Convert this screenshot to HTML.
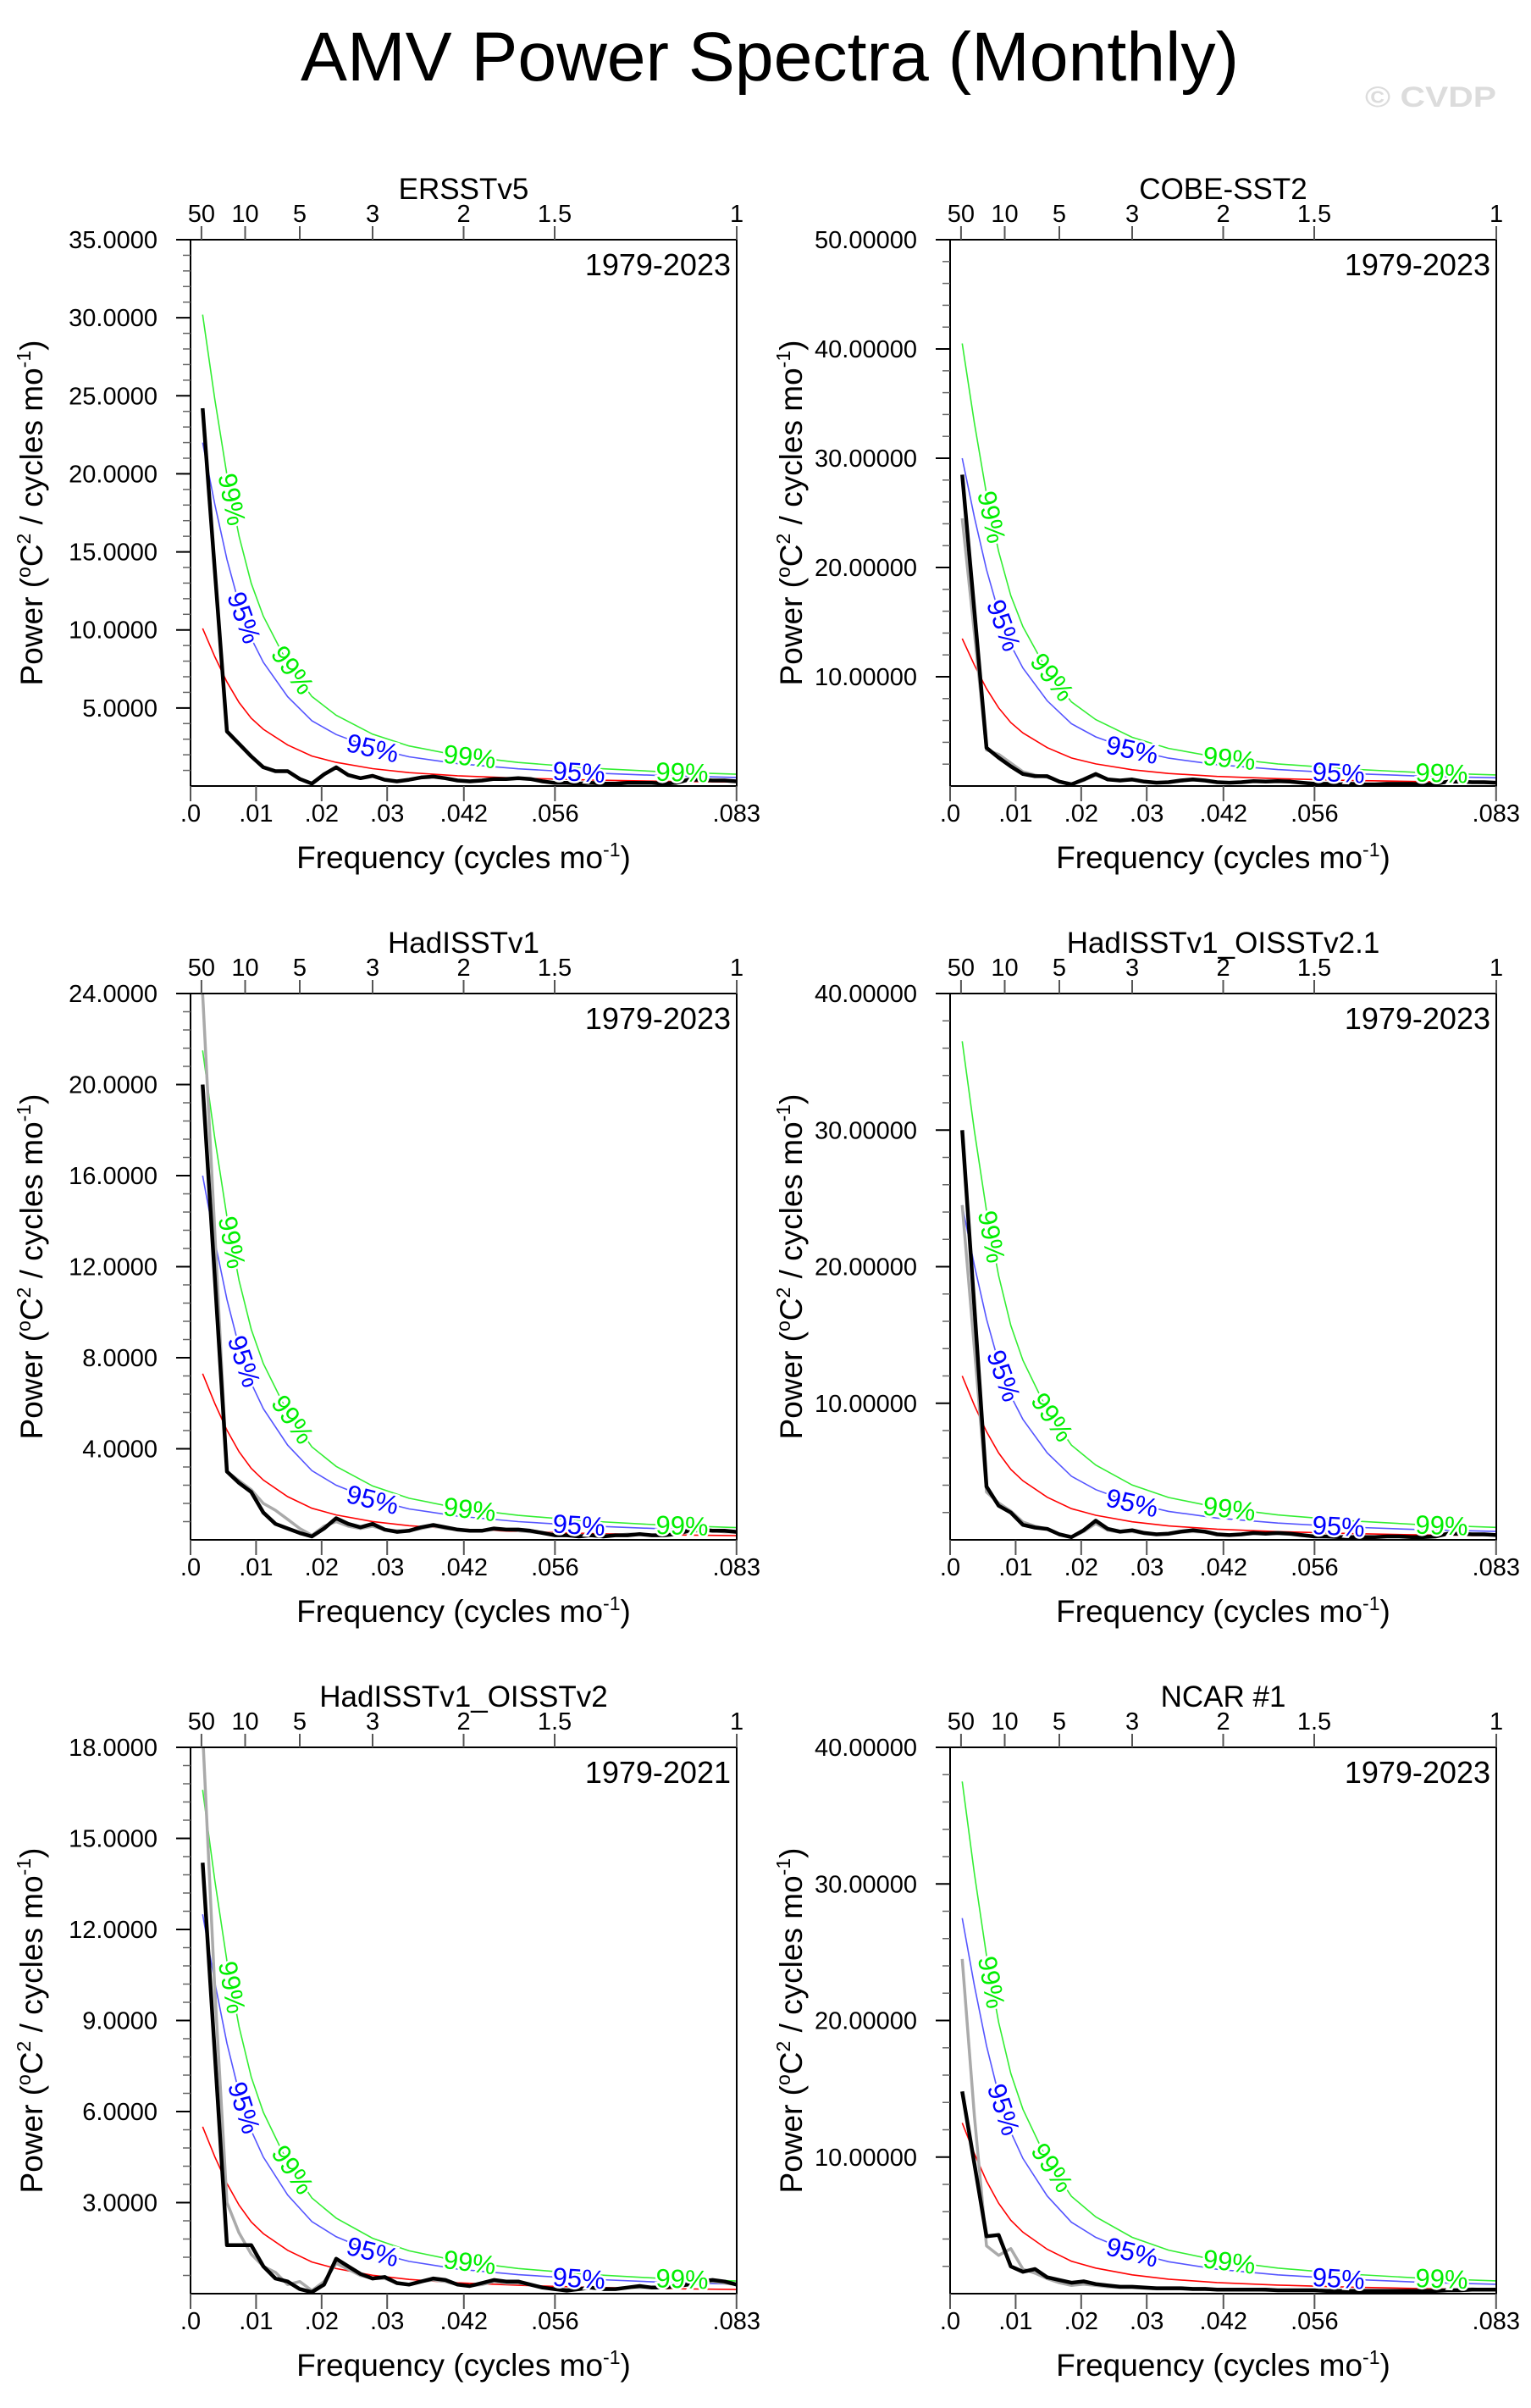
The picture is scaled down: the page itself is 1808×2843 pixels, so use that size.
<!DOCTYPE html>
<html><head><meta charset="utf-8"><style>
html,body{margin:0;padding:0;background:#fff;}
svg{display:block;font-family:"Liberation Sans",sans-serif;}
</style></head><body>
<svg id="fig" width="1808" height="2843" viewBox="0 0 1808 2843" xmlns="http://www.w3.org/2000/svg">
<text x="909" y="95" font-size="82" text-anchor="middle" textLength="1108" lengthAdjust="spacingAndGlyphs">AMV Power Spectra (Monthly)</text>
<text x="1612" y="126" font-size="34" font-weight="bold" fill="#dcdcdc" textLength="155" lengthAdjust="spacingAndGlyphs">© CVDP</text>
</svg>
<script>
// ---- data ----
const panelTitles = ["ERSSTv5","COBE-SST2","HadISSTv1","HadISSTv1_OISSTv2.1","HadISSTv1_OISSTv2","NCAR #1"];
const panelYears = ["1979-2023","1979-2023","1979-2023","1979-2023","1979-2021","1979-2023"];
const yMax = [35,50,24,40,18,40];
const yTickVals = [[5,10,15,20,25,30,35],[10,20,30,40,50],[4,8,12,16,20,24],[10,20,30,40],[3,6,9,12,15,18],[10,20,30,40]];
const yTickLabels = [
 ["5.0000","10.0000","15.0000","20.0000","25.0000","30.0000","35.0000"],
 ["10.00000","20.00000","30.00000","40.00000","50.00000"],
 ["4.0000","8.0000","12.0000","16.0000","20.0000","24.0000"],
 ["10.00000","20.00000","30.00000","40.00000"],
 ["3.0000","6.0000","9.0000","12.0000","15.0000","18.0000"],
 ["10.00000","20.00000","30.00000","40.00000"]];
const xTickVals = [0,0.01,0.02,0.03,0.0417,0.0556,0.0833];
const xTickLabels = [".0",".01",".02",".03",".042",".056",".083"];
const periodVals = [50,10,5,3,2,1.5,1];
const periodLabels = ["50","10","5","3","2","1.5","1"];
const nMonths = 540;
const black1 = [24.2,13.8,3.5,2.7,1.9,1.2,0.95,0.95,0.45,0.15,0.75,1.2,0.7,0.5,0.65,0.4,0.3,0.4,0.55,0.6,0.5,0.35,0.3,0.35,0.45,0.45,0.5,0.45,0.3,0.2,0.2,0.15,0.2,0.15,0.15,0.2,0.2,0.2,0.15,0.2,0.4,0.4,0.35,0.35,0.3];
const black2 = [28.5,16,3.5,2.6,1.8,1.1,0.9,0.9,0.4,0.15,0.6,1.1,0.6,0.5,0.6,0.4,0.3,0.35,0.5,0.6,0.5,0.35,0.3,0.35,0.45,0.4,0.45,0.4,0.3,0.2,0.2,0.15,0.2,0.15,0.15,0.2,0.2,0.2,0.15,0.2,0.4,0.4,0.35,0.35,0.3];
const gray2 = [24.5,14,3.3,2.9,2.1,1.3,1.0,0.8,0.4,0.2,0.5,1.0,0.6,0.5,0.55,0.4,0.35,0.35,0.45,0.55,0.5,0.35,0.3,0.35,0.4,0.4,0.4,0.4,0.3,0.25,0.2,0.2,0.2,0.15,0.15,0.2,0.2,0.2,0.2,0.2,0.35,0.35,0.35,0.3,0.3];
const black3 = [20,11.5,3.0,2.5,2.1,1.2,0.7,0.5,0.3,0.15,0.5,0.95,0.7,0.55,0.7,0.45,0.35,0.4,0.55,0.65,0.55,0.45,0.4,0.4,0.5,0.45,0.45,0.4,0.3,0.2,0.2,0.15,0.2,0.15,0.2,0.2,0.25,0.2,0.2,0.25,0.4,0.45,0.4,0.4,0.35];
const gray3 = [24,13.5,3.0,2.6,2.2,1.6,1.3,0.9,0.5,0.2,0.6,0.8,0.6,0.5,0.6,0.45,0.4,0.4,0.5,0.6,0.5,0.45,0.4,0.4,0.45,0.45,0.4,0.35,0.3,0.25,0.2,0.2,0.2,0.2,0.2,0.25,0.25,0.2,0.2,0.25,0.35,0.4,0.4,0.35,0.35];
const black4 = [30,17,3.9,2.5,2.0,1.1,0.9,0.8,0.4,0.2,0.7,1.4,0.8,0.6,0.7,0.5,0.4,0.45,0.6,0.7,0.6,0.4,0.35,0.4,0.5,0.45,0.5,0.45,0.35,0.25,0.25,0.2,0.2,0.2,0.2,0.25,0.25,0.2,0.2,0.25,0.45,0.45,0.4,0.4,0.35];
const gray4 = [24.5,14,3.5,2.7,2.1,1.3,1.0,0.8,0.4,0.2,0.6,1.2,0.7,0.55,0.6,0.45,0.4,0.4,0.55,0.6,0.55,0.4,0.35,0.4,0.45,0.45,0.45,0.4,0.3,0.25,0.2,0.2,0.2,0.2,0.2,0.25,0.25,0.2,0.2,0.25,0.4,0.4,0.4,0.35,0.35];
const black5 = [14.2,7.9,1.6,1.6,1.6,0.9,0.5,0.4,0.15,0.05,0.3,1.15,0.9,0.65,0.5,0.55,0.35,0.3,0.4,0.5,0.45,0.3,0.25,0.35,0.45,0.4,0.4,0.3,0.2,0.15,0.1,0.15,0.2,0.15,0.15,0.2,0.25,0.2,0.2,0.25,0.3,0.4,0.45,0.4,0.3];
const gray5 = [18.5,10,3.0,2.0,1.3,0.9,0.7,0.3,0.4,0.1,0.4,1.0,0.8,0.6,0.5,0.5,0.35,0.3,0.4,0.45,0.4,0.3,0.25,0.3,0.4,0.35,0.35,0.3,0.2,0.15,0.15,0.15,0.2,0.15,0.15,0.2,0.2,0.2,0.2,0.2,0.3,0.35,0.4,0.35,0.3];
const black6 = [14.8,9.5,4.2,4.3,2.0,1.6,1.8,1.2,1.0,0.8,0.9,0.7,0.6,0.5,0.5,0.45,0.4,0.4,0.4,0.35,0.35,0.3,0.3,0.3,0.3,0.3,0.25,0.25,0.25,0.25,0.2,0.2,0.2,0.2,0.2,0.2,0.2,0.2,0.2,0.2,0.25,0.25,0.3,0.3,0.3];
const gray6 = [24.5,13,3.5,2.8,3.3,1.8,1.5,1.1,0.8,0.6,0.7,0.6,0.5,0.45,0.45,0.4,0.35,0.35,0.35,0.3,0.3,0.3,0.3,0.3,0.3,0.25,0.25,0.25,0.25,0.25,0.2,0.2,0.2,0.2,0.2,0.2,0.2,0.25,0.25,0.25,0.3,0.3,0.35,0.3,0.3];
const blackSeries = [black1,black2,black3,black4,black5,black6];
const graySeries = [null,gray2,gray3,gray4,gray5,gray6];
const redPeak = [10.1,13.5,7.3,12,5.5,12.5];
const bluePeak = [22,30,16,24.5,12.5,27.5];
const greenPeak = [30.2,40.5,21.5,36.5,16.6,37.5];
const shapeK = [1,2,3,4,5,6,8,10,12,15,18,22,27,33,39,45];
const shapeVals = [1,0.82,0.66,0.53,0.43,0.36,0.26,0.19,0.15,0.11,0.085,0.065,0.05,0.038,0.03,0.025];
const greenLabelK = [3.4,8.4,23,40.5];
const blueLabelK = [4.4,15,32];

// ---- layout ----
const NS = "http://www.w3.org/2000/svg";
const svg = document.getElementById("fig");
const colX = [225,1122], rowY = [283,1173,2063], PW = 645, PH = 645, FMAX = 0.08333;
function mk(tag, attrs, parent){ const e=document.createElementNS(NS,tag); for(const k in attrs) e.setAttribute(k,attrs[k]); (parent||svg).appendChild(e); return e; }
function shapeAt(k){ if(k<=shapeK[0]) return shapeVals[0]; for(let i=1;i<shapeK.length;i++){ if(k<=shapeK[i]){ const t=(k-shapeK[i-1])/(shapeK[i]-shapeK[i-1]); return shapeVals[i-1]+t*(shapeVals[i]-shapeVals[i-1]); } } return shapeVals[shapeVals.length-1]; }

for(let p=0;p<6;p++){
  const L = colX[p%2], T = rowY[Math.floor(p/2)], B = T+PH, R = L+PW;
  const xs = f => L + f/FMAX*PW;
  const ys = v => B - v/yMax[p]*PH;
  const g = mk("g",{});
  
  
  const cid = "clip"+p;
  const cp = mk("clipPath",{id:cid},g); mk("rect",{x:L,y:T,width:PW,height:PH},cp);
  const tt = mk("text",{x:L+PW/2,y:T-48,"font-size":35,"text-anchor":"middle"},g); tt.textContent=panelTitles[p];
  
  
  const yr = mk("text",{x:R-7,y:T+42,"font-size":36,"text-anchor":"end"},g); yr.textContent=panelYears[p];
  
  
  const curveG = mk("g",{"clip-path":"url(#"+cid+")"},g);
  const peaks = [[redPeak[p],"#ff0000","red-noise-curve"],[bluePeak[p],"#5555ff","blue-95-curve"],[greenPeak[p],"#33ee33","green-99-curve"]];
  peaks.forEach(([pk,col,nm])=>{
    let d=""; shapeK.forEach((k,i)=>{ d+=(i?"L":"M")+xs(k/nMonths).toFixed(1)+","+ys(pk*shapeVals[i]).toFixed(1); });
    const c = mk("path",{d:d,fill:"none",stroke:col,"stroke-width":1.6},curveG);
    
    
  });
  [[graySeries[p],"#aaaaaa",3.5,"gray-spectrum-line"],[blackSeries[p],"#000000",4.5,"black-spectrum-line"]].forEach(([arr,col,w,nm])=>{
    if(!arr) return;
    let d=""; arr.forEach((v,i)=>{ d+=(i?"L":"M")+xs((i+1)/nMonths).toFixed(1)+","+ys(v).toFixed(1); });
    const c = mk("path",{d:d,fill:"none",stroke:col,"stroke-width":w,"stroke-linejoin":"round"},curveG);
    
    
  });
  [[greenLabelK,greenPeak[p],"#00ee00","99%"],[blueLabelK,bluePeak[p],"#0000ff","95%"]].forEach(([ks,pk,col,txt])=>{
    ks.forEach(k=>{
      const x=xs(k/nMonths), y=ys(pk*shapeAt(k));
      const x2=xs((k+0.3)/nMonths), y2=ys(pk*shapeAt(k+0.3));
      const ang=Math.atan2(y2-y,x2-x)*180/Math.PI;
      const t = mk("text",{x:x,y:y,"font-size":31,fill:col,"text-anchor":"middle","dominant-baseline":"central",transform:"rotate("+ang.toFixed(1)+" "+x.toFixed(1)+" "+y.toFixed(1)+")",stroke:"#fff","stroke-width":5,"paint-order":"stroke"},g);
      t.textContent=txt;
      
      
    });
  });
  const fr = mk("rect",{x:L,y:T,width:PW,height:PH,fill:"none",stroke:"#000","stroke-width":2},g);
  
  
  const step = yTickVals[p][1]-yTickVals[p][0];
  for(let v=step/5; v<=yMax[p]+1e-6; v+=step/5){ mk("line",{x1:L-9,x2:L,y1:ys(v),y2:ys(v),stroke:"#666","stroke-width":1.5},g); }
  yTickVals[p].forEach((v,i)=>{
    mk("line",{x1:L-17,x2:L,y1:ys(v),y2:ys(v),stroke:"#000","stroke-width":2},g);
    const t=mk("text",{x:L-39,y:ys(v)+10,"font-size":29,"text-anchor":"end"},g); t.textContent=yTickLabels[p][i];
    
    
  });
  xTickVals.forEach((f,i)=>{
    mk("line",{x1:xs(f),x2:xs(f),y1:B,y2:B+18,stroke:"#555","stroke-width":2},g);
    const t=mk("text",{x:xs(f),y:B+42,"font-size":29,"text-anchor":"middle"},g); t.textContent=xTickLabels[i];
    
    
  });
  periodVals.forEach((per,i)=>{
    const f = 1/(per*12);
    mk("line",{x1:xs(f),x2:xs(f),y1:T,y2:T-16,stroke:"#555","stroke-width":2},g);
    const t=mk("text",{x:xs(f),y:T-21,"font-size":29,"text-anchor":"middle"},g); t.textContent=periodLabels[i];
    
    
  });
  const xt = mk("text",{x:L+PW/2,y:B+97,"font-size":37,"text-anchor":"middle"},g);
  xt.innerHTML = 'Frequency (cycles mo<tspan dy="-14" font-size="23">-1</tspan><tspan dy="14">)</tspan>';
  
  
  const cx = L-175, cy = T+PH/2;
  const yt = mk("text",{x:cx,y:cy,"font-size":37,"text-anchor":"middle",transform:"rotate(-90 "+cx+" "+cy+")"},g);
  yt.innerHTML = 'Power (<tspan dy="-14" font-size="23">o</tspan><tspan dy="14">C</tspan><tspan dy="-14" font-size="23">2</tspan><tspan dy="14"> / cycles mo</tspan><tspan dy="-14" font-size="23">-1</tspan><tspan dy="14">)</tspan>';
  
  
}
</script>
</body></html>
